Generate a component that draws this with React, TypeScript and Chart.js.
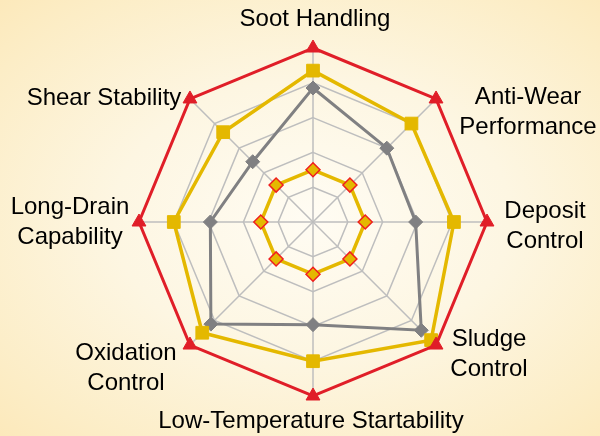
import React, { useEffect, useRef } from "react";
import { Chart, registerables } from "chart.js";

Chart.register(...registerables);

const categories: string[][] = [
  ["Soot Handling"],
  ["Anti-Wear", "Performance"],
  ["Deposit", "Control"],
  ["Sludge", "Control"],
  ["Low-Temperature Startability"],
  ["Oxidation", "Control"],
  ["Long-Drain", "Capability"],
  ["Shear Stability"],
];

// label block centre offsets from the radar centre (px)
const labelOffsets: [number, number][] = [
  [2, -203],
  [215, -110],
  [232, 4],
  [176, 132],
  [-2, 199],
  [-187, 146],
  [-243, 0],
  [-209, -124],
];

const outerSeries = [100, 100, 100, 100, 100, 100, 100, 100];
const yellowSeries = [87, 80, 81, 96, 80, 90, 80, 73];
const graySeries = [77, 60, 59, 88, 59, 83, 59, 49];
const innerSeries = [30, 30, 30, 30, 30, 30, 30, 30];

const RED = "rgb(224,30,40)";
const YELLOW = "rgb(228,184,0)";
const GRAY = "rgb(128,128,130)";

const labelPlugin = {
  id: "customLabels",
  afterDraw(chart: any) {
    const s = chart.scales.r;
    const ctx = chart.ctx;
    ctx.save();
    ctx.font = '24px "Liberation Sans", Arial, sans-serif';
    ctx.fillStyle = "#000";
    ctx.textAlign = "center";
    ctx.textBaseline = "middle";
    const lh = 30;
    categories.forEach((lines, i) => {
      const [dx, dy] = labelOffsets[i];
      const cx = s.xCenter + dx;
      const cy = s.yCenter + dy;
      lines.forEach((t, j) => {
        ctx.fillText(t, cx, cy + (j - (lines.length - 1) / 2) * lh);
      });
    });
    ctx.restore();
  },
};

export default function App() {
  const ref = useRef<HTMLCanvasElement>(null);
  useEffect(() => {
    if (!ref.current) return;
    const chart = new Chart(ref.current, {
      type: "radar",
      data: {
        labels: categories.map((l) => l.join(" ")),
        datasets: [
          {
            data: outerSeries,
            borderColor: RED,
            backgroundColor: RED,
            borderWidth: 3,
            pointStyle: "triangle",
            pointRadius: 8,
            pointBackgroundColor: RED,
            pointBorderColor: RED,
            pointBorderWidth: 1,
            fill: false,
          },
          {
            data: yellowSeries,
            borderColor: YELLOW,
            backgroundColor: YELLOW,
            borderWidth: 3.5,
            pointStyle: "rect",
            pointRadius: 9,
            pointBackgroundColor: YELLOW,
            pointBorderColor: YELLOW,
            pointBorderWidth: 1,
            fill: false,
          },
          {
            data: graySeries,
            borderColor: GRAY,
            backgroundColor: GRAY,
            borderWidth: 3,
            pointStyle: "rectRot",
            pointRadius: 7,
            pointBackgroundColor: GRAY,
            pointBorderColor: GRAY,
            pointBorderWidth: 1,
            fill: false,
          },
          {
            data: innerSeries,
            borderColor: YELLOW,
            backgroundColor: YELLOW,
            borderWidth: 3.5,
            pointStyle: "rectRot",
            pointRadius: 7,
            pointBackgroundColor: YELLOW,
            pointBorderColor: "rgb(240,30,30)",
            pointBorderWidth: 1.5,
            fill: false,
          },
        ],
      },
      options: {
        responsive: false,
        animation: false,
        layout: { padding: { left: 139, right: 113, top: 48, bottom: 40 } },
        plugins: { legend: { display: false }, tooltip: { enabled: false } },
        elements: { line: { tension: 0 } },
        scales: {
          r: {
            min: 0,
            max: 100,
            ticks: { display: false, stepSize: 20 },
            pointLabels: { display: false },
            grid: { color: "rgb(190,190,190)", lineWidth: 1.5 },
            angleLines: { color: "rgb(190,190,190)", lineWidth: 1.5 },
          },
        },
      },
      plugins: [labelPlugin],
    });
    return () => chart.destroy();
  }, []);

  return (
    <div
      style={{
        position: "fixed",
        left: 0,
        top: 0,
        width: 600,
        height: 436,
        background:
          "radial-gradient(ellipse at 52% 50%, #fffcf3 0%, #fdf6e2 45%, #fcedc6 85%, #fce9bb 100%)",
      }}
    >
      <canvas ref={ref} width={600} height={436} style={{ display: "block" }} />
    </div>
  );
}
